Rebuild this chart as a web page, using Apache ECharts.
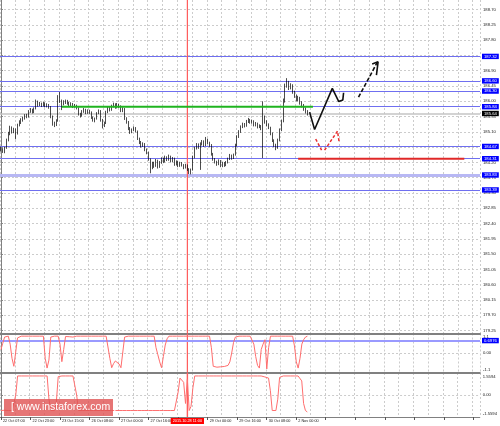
<!DOCTYPE html>
<html><head><meta charset="utf-8">
<script src="https://cdn.jsdelivr.net/npm/echarts@6/dist/echarts.min.js"></script>
<style>html,body{margin:0;padding:0;background:#fff}#c{width:500px;height:426px}</style>
</head><body><div id="c"></div>
<script>
// ---- data ----
const xTickLabels = ['22 Oct 07:00','22 Oct 23:00','23 Oct 15:00','26 Oct 08:00','27 Oct 00:00','27 Oct 16:00','28 Oct 08:00','29 Oct 00:00','29 Oct 16:00','30 Oct 08:00','2 Nov 00:00'];
const barsPerLabel = 16;
const slotCount = 260;
const priceMin = 179.18, priceMax = 188.98;
const priceTicks = [188.70,188.25,187.80,187.35,186.90,186.45,186.00,185.55,185.10,184.65,184.20,183.75,183.30,182.85,182.40,181.95,181.50,181.05,180.60,180.15,179.70,179.25];
// [open, close, low, high]
const ohlc = [
[184.62,184.58,184.52,184.66],[184.58,184.52,184.48,184.62],[184.52,184.62,184.47,184.66],[184.62,184.85,184.60,184.90],[184.85,185.05,184.82,185.10],
[185.05,185.22,185.00,185.28],[185.22,185.10,185.05,185.26],[185.10,185.18,185.06,185.22],[185.18,185.05,184.88,185.20],[185.05,185.30,185.02,185.34],
[185.30,185.38,185.26,185.44],[185.38,185.45,185.33,185.50],[185.45,185.50,185.40,185.55],[185.50,185.58,185.46,185.62],[185.58,185.55,185.50,185.63],
[185.55,185.70,185.52,185.74],[185.70,185.75,185.66,185.80],[185.75,185.68,185.64,185.78],[185.68,185.78,185.65,185.82],[185.78,185.95,185.76,186.05],
[185.95,185.90,185.84,186.02],[185.90,185.93,185.86,185.98],[185.93,185.88,185.83,185.96],[185.88,185.95,185.85,185.99],[185.95,185.86,185.82,185.97],
[185.86,185.90,185.82,185.94],[185.90,185.84,185.78,185.92],[185.84,185.55,185.50,185.86],[185.55,185.35,185.28,185.58],[185.35,185.30,185.24,185.40],
[185.30,185.42,185.27,185.47],[185.42,186.10,185.40,186.18],[186.10,186.02,185.95,186.27],[186.02,185.92,185.74,186.05],[185.92,185.98,185.88,186.03],
[185.98,186.00,185.92,186.05],[186.00,185.95,185.90,186.04],[185.95,185.90,185.85,185.98],[185.90,185.93,185.86,185.97],[185.93,185.85,185.80,185.95],
[185.85,185.88,185.81,185.92],[185.88,185.80,185.76,185.90],[185.80,185.62,185.58,185.82],[185.62,185.58,185.52,185.66],[185.58,185.70,185.55,185.74],
[185.70,185.75,185.66,185.80],[185.75,185.66,185.62,185.78],[185.66,185.72,185.63,185.76],[185.72,185.68,185.63,185.75],[185.68,185.52,185.48,185.70],
[185.52,185.45,185.40,185.55],[185.45,185.48,185.38,185.52],[185.48,185.65,185.46,185.68],[185.65,185.72,185.62,185.76],[185.72,185.45,185.40,185.74],
[185.45,185.28,185.20,185.48],[185.28,185.35,185.24,185.40],[185.35,185.68,185.33,185.72],[185.68,185.80,185.65,185.84],[185.80,185.75,185.70,185.83],
[185.75,185.85,185.72,185.90],[185.85,185.92,185.82,185.96],[185.92,185.82,185.78,185.94],[185.82,185.90,185.79,185.95],[185.90,185.86,185.80,185.93],
[185.86,185.72,185.68,185.88],[185.72,185.78,185.68,185.82],[185.78,185.50,185.45,185.80],[185.50,185.40,185.34,185.53],[185.40,185.20,185.15,185.42],
[185.20,185.10,185.04,185.24],[185.10,185.15,185.06,185.20],[185.15,185.22,185.12,185.26],[185.22,185.12,185.08,185.24],[185.12,184.90,184.86,185.14],
[184.90,184.80,184.74,184.93],[184.80,184.70,184.64,184.83],[184.70,184.75,184.66,184.79],[184.75,184.58,184.53,184.77],[184.58,184.50,184.44,184.61],
[184.50,184.30,184.25,184.52],[184.30,184.05,183.88,184.32],[184.05,184.18,184.00,184.22],[184.18,184.10,184.04,184.22],[184.10,184.25,184.07,184.30],
[184.25,184.08,184.02,184.28],[184.08,184.20,184.04,184.24],[184.20,184.30,184.16,184.35],[184.30,184.22,184.18,184.34],[184.22,184.35,184.20,184.40],
[184.35,184.28,184.24,184.38],[184.28,184.38,184.25,184.43],[184.38,184.25,184.20,184.40],[184.25,184.32,184.21,184.36],[184.32,184.15,184.10,184.34],
[184.15,184.22,184.11,184.26],[184.22,184.10,184.06,184.24],[184.10,184.18,184.07,184.22],[184.18,184.12,184.08,184.21],[184.12,184.05,184.00,184.15],
[184.05,184.12,184.02,184.16],[184.12,184.00,183.95,184.14],[184.00,183.92,183.86,184.03],[183.92,183.98,183.85,184.02],[183.98,184.35,183.96,184.40],
[184.35,184.62,184.32,184.66],[184.62,184.72,184.58,184.77],[184.72,184.65,184.60,184.76],[184.65,184.75,183.98,184.79],[184.75,184.82,184.70,184.86],
[184.82,184.70,184.66,184.85],[184.70,184.88,184.68,184.95],[184.88,184.78,184.74,184.90],[184.78,184.72,184.66,184.81],[184.72,184.45,184.40,184.74],
[184.45,184.30,184.25,184.48],[184.30,184.22,184.17,184.33],[184.22,184.15,184.10,184.25],[184.15,184.25,184.12,184.29],[184.25,184.10,184.06,184.27],
[184.10,184.18,184.06,184.22],[184.18,184.12,184.07,184.21],[184.12,184.20,184.09,184.24],[184.20,184.30,184.17,184.34],[184.30,184.40,184.27,184.45],
[184.40,184.32,184.28,184.43],[184.32,184.42,184.30,184.46],[184.42,184.70,184.40,184.75],[184.70,184.95,184.67,185.00],[184.95,185.10,184.92,185.15],
[185.10,185.25,185.07,185.29],[185.25,185.32,185.21,185.37],[185.32,185.28,185.23,185.36],[185.28,185.40,185.25,185.45],[185.40,185.45,185.36,185.51],
[185.45,185.38,185.34,185.48],[185.38,185.42,185.34,185.46],[185.42,185.30,185.26,185.44],[185.30,185.35,185.26,185.39],[185.35,185.25,185.20,185.37],
[185.25,185.28,185.21,185.32],[185.28,185.20,185.15,185.30],[185.20,185.50,184.33,186.00],[185.50,185.40,185.34,185.58],[185.40,185.32,185.26,185.44],
[185.32,185.22,185.18,185.35],[185.22,185.05,185.00,185.25],[185.05,184.85,184.80,185.08],[184.85,184.72,184.66,184.88],[184.72,184.62,184.56,184.75],
[184.62,184.85,184.60,184.90],[184.85,185.15,184.82,185.20],[185.15,185.40,185.12,185.46],[185.40,186.00,185.38,186.08],[186.00,186.45,185.96,186.52],
[186.45,186.55,186.40,186.68],[186.55,186.40,186.33,186.60],[186.40,186.48,186.35,186.53],[186.48,186.28,186.22,186.50],[186.28,186.15,186.10,186.31],
[186.15,186.05,186.00,186.20],[186.05,186.10,186.00,186.16],[186.10,185.95,185.90,186.13],[185.95,185.88,185.82,186.00],[185.88,185.78,185.72,185.92],
[185.78,185.70,185.64,185.82],[185.70,185.64,185.58,185.74]
];
const osc1 = [
0.19,0.55,0.90,0.95,0.95,0.50,-0.30,-0.75,-0.80,0.85,
0.95,0.95,0.95,0.95,0.95,0.95,0.95,0.95,0.95,0.95,
0.95,0.95,0.95,0.95,-0.30,-0.85,-0.40,0.90,0.95,0.95,
0.95,0.95,0.50,-0.49,0.20,0.93,0.88,0.92,0.85,0.90,
0.95,0.95,0.95,0.95,0.95,0.95,0.95,0.95,0.95,0.95,
0.95,0.95,0.95,0.95,0.95,0.95,0.95,0.95,0.95,-0.30,
-0.83,-0.60,-0.45,-0.48,-0.62,-0.83,-0.80,0.90,0.95,0.95,
0.95,0.95,0.95,0.95,0.95,0.95,0.95,0.95,0.95,0.95,
0.95,0.95,0.95,0.95,0.30,-0.10,-0.50,-0.83,-0.20,0.45,
0.80,0.95,0.95,0.95,0.95,0.95,0.95,0.95,0.95,0.95,
0.95,0.95,0.95,0.95,0.95,0.95,0.95,0.95,0.95,0.95,
0.95,0.95,0.95,0.95,0.30,-0.75,-0.83,-0.80,-0.83,-0.78,
-0.80,-0.76,-0.80,-0.70,-0.50,0.00,0.60,0.90,0.95,0.95,
0.95,0.95,0.95,0.95,0.95,0.95,0.95,0.50,-0.20,-0.70,
-0.85,0.20,0.50,0.75,-0.90,0.30,0.95,0.95,0.95,0.95,
0.95,0.95,0.95,0.95,0.95,0.95,0.95,0.95,0.95,0.40,
-0.50,-0.85,-0.30,0.50,0.76,0.90,0.95
];
const osc2 = [
-1.10,-1.10,-1.08,-1.10,-1.10,-1.10,-1.10,-1.05,0.00,1.35,
1.35,1.35,1.35,1.35,1.35,1.35,1.35,1.35,1.35,1.35,
1.35,1.35,1.35,1.35,1.35,1.35,-0.30,-1.10,-1.10,-1.10,
-0.50,1.30,1.35,1.35,1.35,1.35,1.35,1.35,1.35,1.35,
1.30,0.00,-1.10,-1.10,-1.10,-1.10,-1.10,-1.10,-1.10,-1.10,
-1.10,-1.10,-1.10,-1.10,-1.10,-1.10,-1.10,-1.10,-1.10,-1.10,
-1.10,-1.10,-1.10,-1.10,-1.10,-1.10,-1.10,-1.10,-1.10,-1.10,
-1.10,-1.10,-1.10,-1.10,-1.10,-1.10,-1.10,-1.10,-1.10,-1.10,
-1.10,-1.10,-1.10,-1.10,-1.10,-1.10,-1.10,-1.10,-1.10,-1.10,
-1.10,-1.10,-1.10,-1.10,-1.10,-1.10,0.20,1.20,1.20,0.90,
-0.60,1.10,-1.10,-0.80,0.50,1.35,1.35,1.35,1.35,1.35,
1.35,1.35,1.35,1.35,1.35,1.35,1.35,1.35,1.35,1.35,
1.35,1.35,1.35,1.35,1.35,1.35,1.35,1.35,1.35,1.35,
1.35,1.35,1.35,1.35,1.35,1.35,1.35,1.35,1.35,1.35,
1.35,1.35,1.28,1.28,1.28,1.20,0.30,-1.10,-1.10,-1.10,
-0.30,1.25,1.35,1.35,1.35,1.35,1.35,1.35,1.35,1.35,
1.35,1.35,1.35,1.00,-0.60,-1.10,-1.20
];
const levels = [187.32, 186.60, 186.30, 185.84, 184.67, 184.31, 183.83, 183.39];
const thickLevel = 183.83;
const bidPrice = 185.64;
const osc1Min = -1.1, osc1Max = 1.1, osc1Level = 0.6976;
const osc2Min = -1.5594, osc2Max = 1.5594;
const osc1Ticks = [1.1, 0, -1.1];
const osc2Ticks = [1.5594, 0, -1.5594];
const vLineSlot = 101;
const vLineLabel = '2015.10.28 11:00';
// hand-drawn annotations: [slot, price]
const greenSeg = [[33, 185.84], [169, 185.84]];
const redSeg = [[161, 184.31], [251, 184.31]];
const blackPath = [[167.2,185.68],[169.9,185.17],[179.5,186.38],[183.0,185.99],[185.2,186.04],[185.6,186.25]];
const blackDash = [[193.7,186.12],[203.9,187.15]];
const blackHead = [[201.1,187.10],[204.3,187.16],[203.4,186.77]];
const redPath1 = [[170.5,184.89],[173.7,184.56]];
const redPath2 = [[175.3,184.56],[182.3,185.12],[183.2,184.80]];

// ---- chart ----
const FONT = 'Liberation Sans';
const cats = [];
for (let i = 0; i < slotCount; i++) cats.push(String(i));
const labelAt = {};
xTickLabels.forEach((t, k) => { labelAt[k * barsPerLabel] = t; });

const gridLine = { show: true, interval: (i) => i % 8 === 0, lineStyle: { color: '#cccccc', type: [2, 2], width: 1 } };
const hGrid = { show: true, lineStyle: { color: '#cccccc', type: [2, 2], width: 1 } };
const boxLabel = (txt, bg) => ({ show: true, position: 'end', distance: 2, formatter: txt, backgroundColor: bg, color: '#fff',
  fontSize: 4.2, fontFamily: FONT, padding: [0.6, 2, 0.4, 2], lineHeight: 4.4 });
const valX = (g) => ({ type: 'value', gridIndex: g, min: -0.5, max: slotCount - 0.5, show: false });
const seg = (xi, yi, data, color, width, type, z) => ({ type: 'line', xAxisIndex: xi, yAxisIndex: yi, data: data, symbol: 'none', silent: true, z: z || 10,
  lineStyle: { color: color, width: width, type: type || 'solid' } });

const chart = echarts.init(document.getElementById('c'), null, { renderer: 'canvas' });
const option = {
  animation: false,
  backgroundColor: '#ffffff',
  textStyle: { fontFamily: FONT },
  grid: [
    { left: -2, right: 20, top: 0, height: 333 },
    { left: -2, right: 20, top: 333.5, height: 39 },
    { left: -2, right: 20, top: 373, height: 44 }
  ],
  xAxis: [
    { type: 'category', gridIndex: 0, data: cats, axisLine: { show: false }, axisTick: { show: false }, axisLabel: { show: false }, splitLine: gridLine },
    valX(0),
    { type: 'category', gridIndex: 1, data: cats, position: 'top', axisLine: { show: true, onZero: false, lineStyle: { color: '#808080', width: 2 } }, axisTick: { show: false }, axisLabel: { show: false }, splitLine: gridLine },
    { type: 'category', gridIndex: 2, data: cats, position: 'top', axisLine: { show: true, onZero: false, lineStyle: { color: '#808080', width: 2 } }, axisTick: { show: false }, axisLabel: { show: false }, splitLine: { show: false } },
    { type: 'category', gridIndex: 2, data: cats, position: 'bottom',
      axisLine: { show: true, onZero: false, lineStyle: { color: '#808080', width: 1 } },
      axisTick: { show: true, alignWithLabel: true, interval: (i) => i % barsPerLabel === 0, length: 3, lineStyle: { color: '#555' } },
      axisLabel: { show: true, interval: (i) => i % barsPerLabel === 0, formatter: (v, i) => labelAt[i] || '', align: 'left', fontSize: 3.8, fontFamily: FONT, color: '#222', margin: 2, padding: [0, 0, 0, 2] },
      splitLine: gridLine },
    valX(1),
    valX(2)
  ],
  yAxis: [
    { type: 'value', gridIndex: 0, position: 'right', min: priceMin, max: priceMax,
      axisLine: { show: true, lineStyle: { color: '#808080' } },
      axisTick: { show: true, length: 2, customValues: priceTicks, lineStyle: { color: '#808080' } },
      axisLabel: { customValues: priceTicks, fontSize: 4.2, fontFamily: FONT, color: '#222', margin: 3, formatter: (v) => v.toFixed(2) },
      splitLine: hGrid },
    { type: 'value', gridIndex: 1, position: 'right', min: osc1Min, max: osc1Max,
      axisLine: { show: true, lineStyle: { color: '#808080' } },
      axisTick: { show: true, length: 2, customValues: osc1Ticks, lineStyle: { color: '#808080' } },
      axisLabel: { customValues: osc1Ticks, fontSize: 4.2, fontFamily: FONT, color: '#222', margin: 3,
        formatter: (v) => v > 0 ? '{t|1.1}' : (v < 0 ? '{b|-1.1}' : '{m|0.00}'),
        rich: { t: { fontSize: 4.2, padding: [6, 0, 0, 0] }, b: { fontSize: 4.2, padding: [0, 0, 6, 0] }, m: { fontSize: 4.2 } } },
      splitLine: hGrid },
    { type: 'value', gridIndex: 2, position: 'right', min: osc2Min, max: osc2Max,
      axisLine: { show: true, lineStyle: { color: '#808080' } },
      axisTick: { show: true, length: 2, customValues: osc2Ticks, lineStyle: { color: '#808080' } },
      axisLabel: { customValues: osc2Ticks, fontSize: 4.2, fontFamily: FONT, color: '#222', margin: 3,
        formatter: (v) => v > 0 ? '{t|1.5594}' : (v < 0 ? '{b|-1.5594}' : '{m|0.00}'),
        rich: { t: { fontSize: 4.2, padding: [8.6, 0, 0, 0] }, b: { fontSize: 4.2, padding: [0, 0, 5.4, 0] }, m: { fontSize: 4.2 } } },
      splitLine: hGrid }
  ],
  series: [
    { type: 'candlestick', xAxisIndex: 0, yAxisIndex: 0, data: ohlc, barWidth: 1.1, silent: true, z: 4,
      itemStyle: { color: '#ffffff', color0: '#000000', borderColor: '#000000', borderColor0: '#000000', borderWidth: 0.7 },
      markLine: { symbol: ['none', 'none'], silent: true, animation: false, z: 3,
        data: levels.map((v) => ({ yAxis: v,
            lineStyle: { color: v === thickLevel ? '#b8b8f4' : '#6f6ff0', width: v === thickLevel ? 3 : 1, type: 'solid' },
            label: boxLabel(v.toFixed(2), '#0000ff') }))
          .concat([{ yAxis: bidPrice, lineStyle: { color: '#c4c4c4', width: 1.5, type: 'solid' }, label: boxLabel(bidPrice.toFixed(2), '#000000') }]) } },
    seg(1, 0, [[vLineSlot, priceMin], [vLineSlot, priceMax]], '#ff5c5c', 1.2, 'solid', 3),
    seg(1, 0, greenSeg, '#1fb41f', 2),
    seg(1, 0, redSeg, '#e02828', 2),
    seg(1, 0, blackPath, '#111111', 1.6),
    seg(1, 0, blackDash, '#111111', 1.6, [4, 2]),
    seg(1, 0, blackHead, '#111111', 1.6),
    seg(1, 0, redPath1, '#e83030', 1.5, [3, 2]),
    seg(1, 0, redPath2, '#e83030', 1.5, [3, 2]),
    { type: 'line', xAxisIndex: 2, yAxisIndex: 1, data: osc1, symbol: 'none', silent: true, z: 5, lineStyle: { color: '#ff6e6e', width: 1 },
      markLine: { symbol: ['none', 'none'], silent: true, animation: false,
        data: [{ yAxis: osc1Level, lineStyle: { color: '#9a9aff', width: 2, type: 'solid' }, label: boxLabel(osc1Level.toFixed(4), '#0000ff') }] } },
    seg(5, 1, [[vLineSlot, osc1Min], [vLineSlot, osc1Max]], '#ff5c5c', 1.2, 'solid', 3),
    { type: 'line', xAxisIndex: 4, yAxisIndex: 2, data: osc2, symbol: 'none', silent: true, z: 5, lineStyle: { color: '#ff6e6e', width: 1 },
      markLine: { symbol: ['none', 'none'], silent: true, animation: false,
        data: [{ xAxis: vLineSlot, lineStyle: { color: '#ff5c5c', width: 1.2, type: 'solid' },
          label: { show: true, position: 'start', distance: 1, formatter: vLineLabel, backgroundColor: '#ff0000', color: '#fff', fontSize: 3.8, fontFamily: FONT, padding: [1, 2, 1, 2] } }] } },
    seg(6, 2, [[vLineSlot, osc2Min], [vLineSlot, osc2Max]], '#ff5c5c', 1.2, 'solid', 3)
  ],
  graphic: [
    { type: 'rect', left: 4, top: 399, shape: { width: 109, height: 17 }, style: { fill: 'rgba(224,82,82,0.8)' }, z: 100 },
    { type: 'text', left: 11, top: 402, style: { text: '[ www.instaforex.com ]', fill: '#ffffff', font: '10.5px "Liberation Sans"' }, z: 101 }
  ]
};
chart.setOption(option);
</script>
</body></html>
